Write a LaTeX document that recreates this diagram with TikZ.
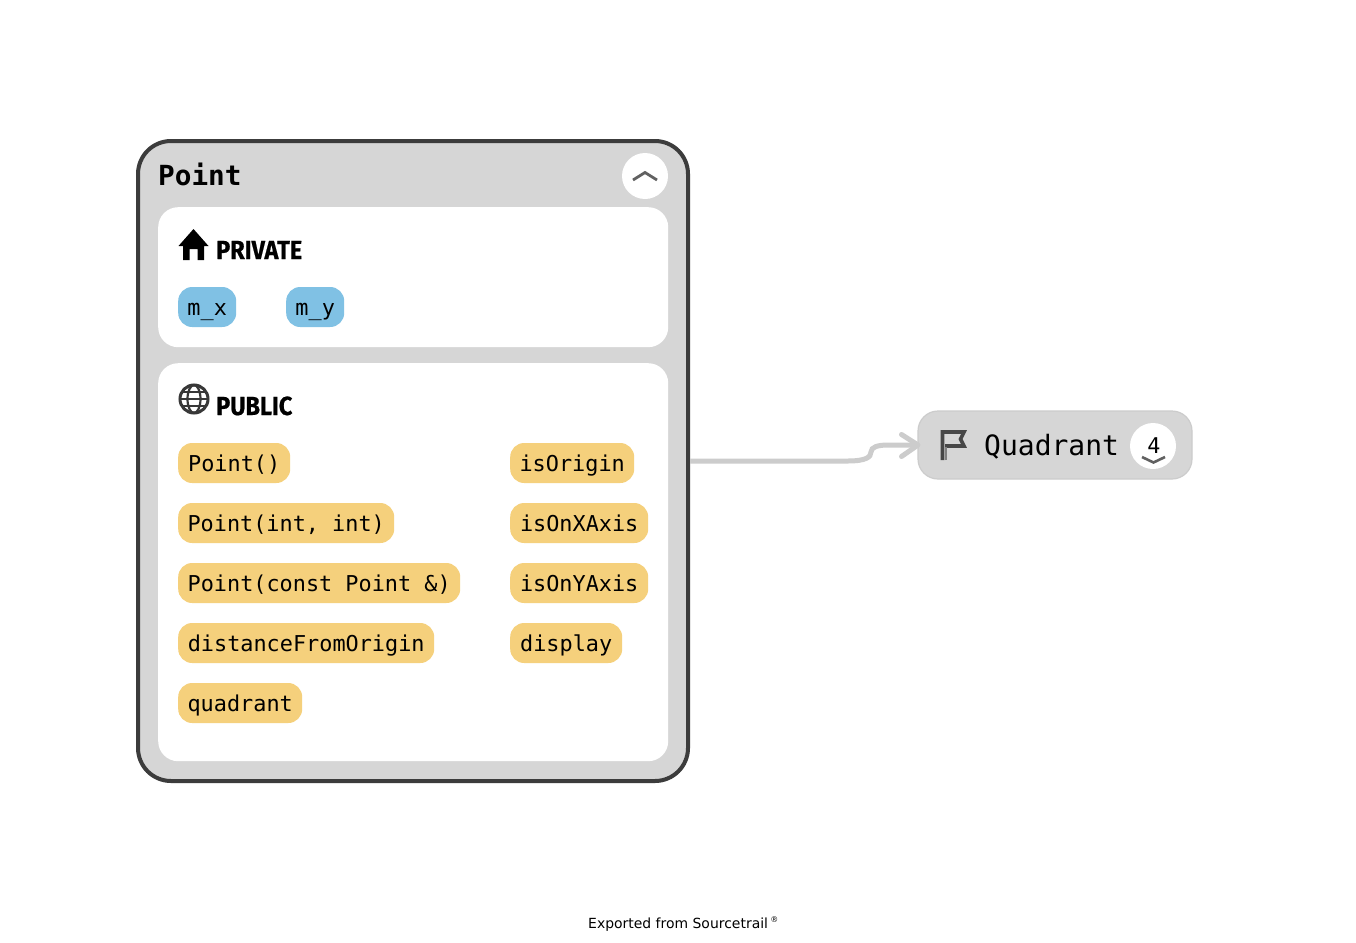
\documentclass[tikz,border=0pt]{standalone}
\usepackage{fontspec}
\setmainfont{DejaVu Sans}
\newfontfamily\chipfont{DejaVu Sans Mono}
\newfontfamily\headfont[FakeStretch=0.895,FakeBold=0.6]{Fira Sans Bold}
\definecolor{boxgray}{HTML}{D6D6D6}
\definecolor{frame}{HTML}{3C3C3C}
\definecolor{edgegray}{HTML}{CCCCCC}
\definecolor{chipblue}{HTML}{80C1E4}
\definecolor{chipyellow}{HTML}{F5D07C}
\tikzset{
  panel/.style={fill=white,rounded corners=20pt,inner sep=0pt,anchor=north west},
  chip/.style={rounded corners=14pt,inner sep=0pt,minimum height=40pt,anchor=west,
    font=\chipfont\fontsize{21.85}{26}\selectfont,text height=18pt,text depth=2pt},
  fieldchip/.style={chip,fill=chipblue},
  funcchip/.style={chip,fill=chipyellow},
  heading/.style={inner sep=0pt,anchor=base west,font=\headfont\fontsize{26.2}{30}\selectfont},
  button/.style={circle,fill=white,minimum size=46pt,inner sep=0pt},
}
\begin{document}
\begin{tikzpicture}[x=1pt,y=-1pt]
\useasboundingbox (0,0) rectangle (1356,942);
\fill[white] (0,0) rectangle (1356,942);
% main box
\node[draw=frame,line width=4pt,fill=boxgray,rounded corners=33pt,inner sep=0pt,minimum width=550pt,minimum height=640pt,anchor=north west] (point) at (136,139) {};
\node[inner sep=0pt,anchor=base west,font=\chipfont\bfseries\fontsize{27.7}{32}\selectfont] (pointtitle) at (158,185) {Point};
\node[button] (collapse) at (645,176) {};
\draw[line width=2.8pt,color=black!62] (633,180) -- (645,172.5) -- (657,180);
% private panel
\node[panel,minimum width=510pt,minimum height=140pt] (private) at (158,207) {};
\fill[black] (193.5,229) -- (208.5,246) -- (204,246) -- (204,260) -- (197.5,260) -- (197.5,249) -- (189.5,249) -- (189.5,260) -- (183,260) -- (183,246) -- (178.5,246) -- cycle;
\node[heading] (privatehead) at (216,259) {PRIVATE};
\node[fieldchip,minimum width=58pt] (mx) at (178,307) {m\_x};
\node[fieldchip,minimum width=58pt] (my) at (286,307) {m\_y};
% public panel
\node[panel,minimum width=510pt,minimum height=398pt] (public) at (158,363) {};
\begin{scope}[color=black!78]
\draw[line width=3pt] (194,399) circle[radius=14];
\draw[line width=2.2pt] (194,399) ellipse[x radius=6.5,y radius=14];
\draw[line width=2.2pt] (180,399) -- (208,399);
\draw[line width=2.2pt] (182.5,392) -- (205.5,392);
\draw[line width=2.2pt] (182.5,406) -- (205.5,406);
\end{scope}
\node[heading] (publichead) at (216,415) {PUBLIC};
\node[funcchip,minimum width=112pt] (c1) at (178,463) {Point()};
\node[funcchip,minimum width=216pt] (c2) at (178,523) {Point(int, int)};
\node[funcchip,minimum width=282pt] (c3) at (178,583) {Point(const Point \&)};
\node[funcchip,minimum width=256pt] (c4) at (178,643) {distanceFromOrigin};
\node[funcchip,minimum width=124pt] (c5) at (178,703) {quadrant};
\node[funcchip,minimum width=124pt] (d1) at (510,463) {isOrigin};
\node[funcchip,minimum width=138pt] (d2) at (510,523) {isOnXAxis};
\node[funcchip,minimum width=138pt] (d3) at (510,583) {isOnYAxis};
\node[funcchip,minimum width=112pt] (d4) at (510,643) {display};
% quadrant
\node[draw=black!20,line width=1.2pt,fill=boxgray,rounded corners=20pt,inner sep=0pt,minimum width=274pt,minimum height=68pt,anchor=north west,outer sep=0pt] (quadrant) at (918,411) {};
\draw[line width=3.6pt,color=black!72,line join=miter] (942.5,460) -- (942.5,432) -- (964,432) -- (960.5,439) -- (964,446) -- (945,446);
\draw[line width=2.4pt,color=black!50] (946,460) -- (946,447);
\node[inner sep=0pt,anchor=base west,font=\chipfont\fontsize{28}{32}\selectfont] (quadrantlabel) at (984,455) {Quadrant};
\node[button] (expand) at (1153,446) {};
\node[inner sep=0pt,anchor=base,font=\chipfont\fontsize{21.7}{26}\selectfont] (count) at (1154,453) {4};
\draw[line width=2.6pt,color=black!62] (1142,457) -- (1153.5,462.5) -- (1165,457);
% edge
\draw[edgegray,line width=5pt] (point.east) -- ++(158,0) .. controls (866,461) and (871,457) .. (871,452) .. controls (871,447) and (878,445) .. (888,445) -- (quadrant.west);
\draw[edgegray,line width=5pt,line cap=round,line join=round] (901.5,434.5) -- (quadrant.west) -- (901.5,456.5);
% footer
\node[inner sep=0pt,anchor=base west,font=\fontsize{13.95}{16}\selectfont] (footer) at (588,928) {Exported from Sourcetrail\,\raisebox{6pt}{\fontsize{8}{9}\selectfont ®}};
\end{tikzpicture}
\end{document}
